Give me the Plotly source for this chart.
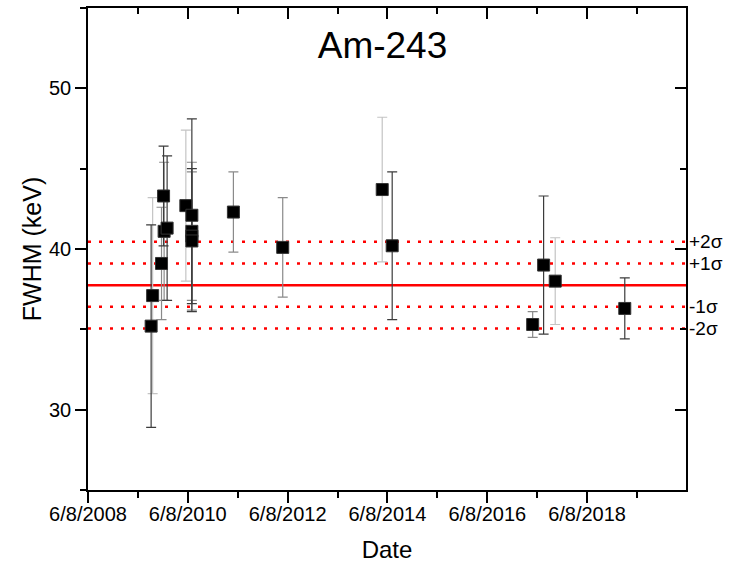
import plotly.graph_objects as go

# ---- data ----
dates = ["2009-09-13", "2009-09-24", "2009-11-28", "2009-12-13", "2009-12-17",
         "2010-01-08", "2010-05-25", "2010-07-08", "2010-07-08", "2010-07-08",
         "2010-07-08", "2011-05-08", "2012-05-03", "2014-05-01", "2014-07-13",
         "2017-05-06", "2017-07-25", "2017-10-18", "2019-03-11"]
fwhm = [35.2, 37.1, 39.1, 43.3, 41.1, 41.3, 42.7, 42.1, 41.1, 40.8, 40.5,
        42.3, 40.1, 43.7, 40.2, 35.3, 39.0, 38.0, 36.3]
err = [6.3, 6.1, 3.5, 3.1, 4.3, 4.5, 4.7, 6.0, 4.3, 4.2, 4.3,
       2.5, 3.1, 4.5, 4.6, 0.8, 4.3, 2.7, 1.9]
err_shade = ["dark", "light", "mid", "dark", "mid", "dark", "light", "dark", "mid", "dark", "mid",
             "mid", "mid", "light", "dark", "mid", "dark", "light", "dark"]

mean_fwhm = 37.75
sigma = 1.35
sigma_levels = [2, 1, -1, -2]
sigma_labels = ["+2σ", "+1σ", "-1σ", "-2σ"]

x_range = ["2008-06-08", "2020-06-01"]
y_range = [25, 55]

shade_colors = {"light": "#c4c4c4", "mid": "#8a8a8a", "dark": "#3c3c3c"}

fig = go.Figure()

# horizontal reference lines
fig.add_shape(type="line", xref="paper", x0=0, x1=1, yref="y", y0=mean_fwhm, y1=mean_fwhm,
              line=dict(color="#ff0000", width=2.5), layer="below")
for k in sigma_levels:
    v = mean_fwhm + k * sigma
    fig.add_shape(type="line", xref="paper", x0=0, x1=1, yref="y", y0=v, y1=v,
                  line=dict(color="#ff0000", width=2.5, dash="3px,8px"), layer="below")

# error bars grouped by shade
for shade, col in shade_colors.items():
    idx = [i for i, s in enumerate(err_shade) if s == shade]
    fig.add_trace(go.Scatter(
        x=[dates[i] for i in idx], y=[fwhm[i] for i in idx], mode="markers",
        marker=dict(color="rgba(0,0,0,0)", size=1),
        error_y=dict(type="data", array=[err[i] for i in idx], color=col,
                     thickness=1.2, width=5),
        showlegend=False, hoverinfo="skip"))

# markers
fig.add_trace(go.Scatter(
    x=dates, y=fwhm, mode="markers",
    marker=dict(symbol="square", size=12, color="black", line=dict(color="#333", width=1)),
    showlegend=False))

# dummy trace for mirror axes
fig.add_trace(go.Scatter(x=[x_range[0]], y=[y_range[0]], xaxis="x2", yaxis="y2",
                         mode="markers", marker=dict(opacity=0), showlegend=False,
                         hoverinfo="skip"))

for lab, k in zip(sigma_labels, sigma_levels):
    fig.add_annotation(xref="paper", x=1.0, xanchor="left", xshift=1, yref="y",
                       y=mean_fwhm + k * sigma, text=lab, showarrow=False,
                       font=dict(size=19, color="black"))

font_family = "Liberation Sans, Arial, sans-serif"

fig.update_layout(
    width=737, height=563,
    margin=dict(l=88, r=51, t=8, b=73),
    paper_bgcolor="white", plot_bgcolor="white",
    font=dict(family=font_family, color="black"),
    title=dict(text="Am-243", x=0.519, xanchor="center", y=0.92, yanchor="middle",
               font=dict(size=37, family=font_family, color="black")),
    xaxis=dict(type="date", range=x_range, tick0="2008-06-08", dtick="M24", automargin=False,
               tickformat="%-m/%-d/%Y", ticks="outside", ticklen=11, tickwidth=1.5,
               ticklabelstandoff=-6,
               tickcolor="black", showline=True, linecolor="black", linewidth=1.5,
               showgrid=False, zeroline=False, tickfont=dict(size=20),
               minor=dict(dtick="M12", tick0="2008-06-08", ticks="outside", ticklen=6,
                          tickwidth=1.5, tickcolor="black", showgrid=False),
               title=dict(text="Date", font=dict(size=24), standoff=22)),
    yaxis=dict(range=y_range, dtick=10, tick0=0, ticks="outside", ticklen=11, automargin=False,
               tickwidth=1.5, tickcolor="black", showline=True, linecolor="black",
               linewidth=1.5, showgrid=False, zeroline=False, tickfont=dict(size=20),
               minor=dict(dtick=5, ticks="outside", ticklen=6, tickwidth=1.5,
                          tickcolor="black", showgrid=False),
               title=dict(text="FWHM (keV)", font=dict(size=25), standoff=0)),
    xaxis2=dict(type="date", range=x_range, overlaying="x", side="top", anchor="y",
                automargin=False,
                tick0="2008-06-08", dtick="M24", ticks="inside", ticklen=11, tickwidth=1.5,
                tickcolor="black", showline=True, linecolor="black", linewidth=1.5,
                showgrid=False, zeroline=False, showticklabels=False,
                minor=dict(dtick="M12", tick0="2008-06-08", ticks="inside", ticklen=6,
                           tickwidth=1.5, tickcolor="black", showgrid=False)),
    yaxis2=dict(range=y_range, overlaying="y", side="right", anchor="x", dtick=10, tick0=0,
                automargin=False,
                ticks="inside", ticklen=11, tickwidth=1.5, tickcolor="black",
                showline=True, linecolor="black", linewidth=1.5, showgrid=False,
                zeroline=False, showticklabels=False,
                minor=dict(dtick=5, ticks="inside", ticklen=6, tickwidth=1.5,
                           tickcolor="black", showgrid=False)),
)

fig.write_html("out.html")
